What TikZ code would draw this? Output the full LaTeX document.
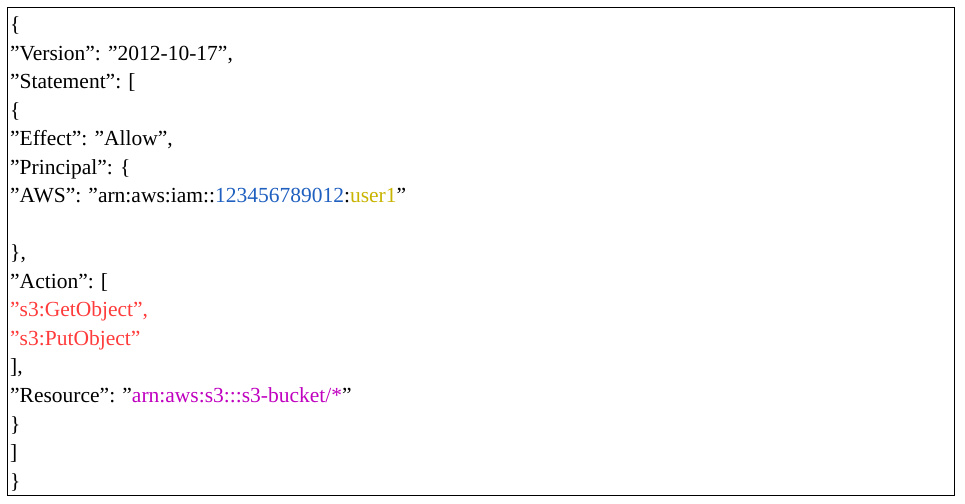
\documentclass[tikz,border=0pt]{standalone}
\usepackage{fontspec}
\setmainfont{Liberation Serif}
\definecolor{cblue}{HTML}{1F5FBF}
\definecolor{cyel}{HTML}{C8B400}
\definecolor{cred}{HTML}{FF3B3B}
\definecolor{cmag}{HTML}{BF00BF}
\begin{document}
\begin{tikzpicture}[x=1pt,y=1pt,ln/.style={anchor=base west,inner sep=0pt,font=\fontsize{21.5}{24}\selectfont}]
\useasboundingbox (0,0) rectangle (965,503);
\draw[line width=1pt] (7.5,8) rectangle (954.5,495.5);
\foreach \t [count=\i from 0] in {
{\{},
{"Version": "2012-10-17",},
{"Statement": [},
{\{},
{"Effect": "Allow",},
{"Principal": \{},
{"AWS": "arn:aws:iam::\textcolor{cblue}{123456789012}:\textcolor{cyel}{user1}"},
{},
{\},},
{"Action": [},
{\textcolor{cred}{"s3:GetObject",}},
{\textcolor{cred}{"s3:PutObject"}},
{],},
{"Resource": "\textcolor{cmag}{arn:aws:s3:::s3-bucket/*}"},
{\}},
{]},
{\}}}
  \node[ln] (l\i) at (10,{503-32-28.5*\i}) {\t};
\end{tikzpicture}
\end{document}
